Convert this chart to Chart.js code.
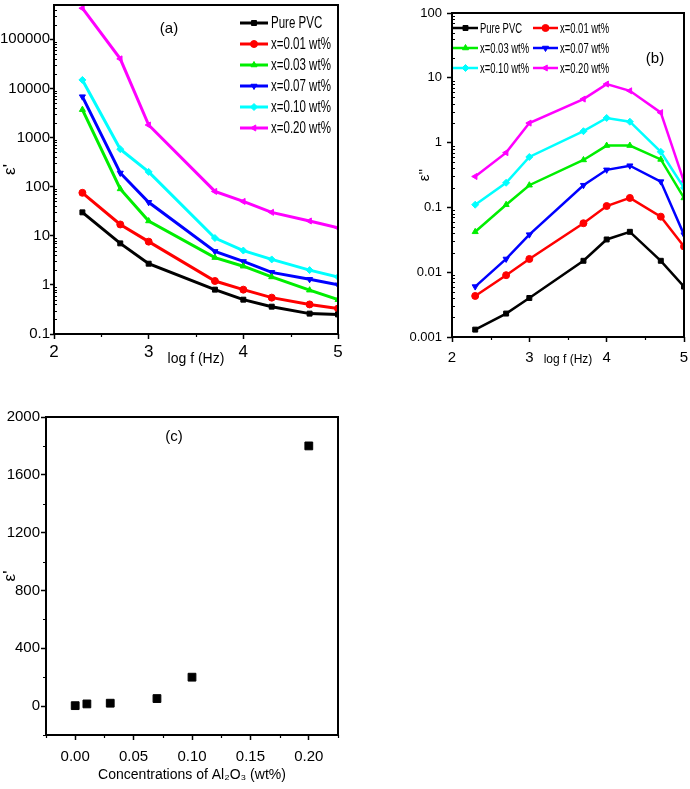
<!DOCTYPE html>
<html>
<head>
<meta charset="utf-8">
<title>PVC / Al2O3 dielectric constant and loss</title>
<script src="https://cdn.jsdelivr.net/npm/chart.js@4.4.1/dist/chart.umd.min.js"></script>
<style>
  html, body { margin: 0; padding: 0; background: #fff; }
  body { width: 690px; height: 789px; position: relative; overflow: hidden; }
  canvas { position: absolute; }
  #chartA { left: 0; top: 0; }
  #chartB { left: 360px; top: 0; }
  #chartC { left: 0; top: 400px; }
</style>
</head>
<body>
<canvas id="chartA" width="350" height="380"></canvas>
<canvas id="chartB" width="330" height="380"></canvas>
<canvas id="chartC" width="350" height="389"></canvas>
<script>
// ===================== DATA ===================== //
const logFreq = [2.3, 2.7, 3.0, 3.7, 4.0, 4.3, 4.7, 5.0];
const seriesNames = ['Pure PVC', 'x=0.01 wt%', 'x=0.03 wt%', 'x=0.07 wt%', 'x=0.10 wt%', 'x=0.20 wt%'];

// (a) ε' against log f
const epsRealPure = [30, 7, 2.7, 0.8, 0.5, 0.36, 0.26, 0.25];
const epsReal001  = [75, 17, 7.6, 1.2, 0.8, 0.55, 0.4, 0.33];
const epsReal003  = [3700, 90, 20, 3.6, 2.4, 1.45, 0.78, 0.5];
const epsReal007  = [6800, 190, 48, 4.8, 3.0, 1.8, 1.3, 1.0];
const epsReal010  = [14900, 580, 200, 9, 5, 3.3, 2.0, 1.45];
const epsReal020  = [430000, 40000, 1800, 80, 50, 30, 20, 14.5];

// (b) ε'' against log f
const epsImagPure = [0.0013, 0.0023, 0.004, 0.015, 0.032, 0.042, 0.015, 0.006];
const epsImag001  = [0.0043, 0.009, 0.016, 0.057, 0.105, 0.14, 0.072, 0.025];
const epsImag003  = [0.042, 0.11, 0.22, 0.54, 0.9, 0.9, 0.55, 0.14];
const epsImag007  = [0.006, 0.016, 0.038, 0.22, 0.38, 0.44, 0.25, 0.038];
const epsImag010  = [0.11, 0.24, 0.6, 1.5, 2.4, 2.1, 0.72, 0.2];
const epsImag020  = [0.3, 0.7, 2.0, 4.7, 8, 6.3, 2.9, 0.25];

// (c) ε' against Al2O3 content
const concentrations = [0, 0.01, 0.03, 0.07, 0.10, 0.20];
const epsRealConc = [3, 15, 20, 52, 200, 1800];

// tick values / labels
const freqTicks = [2, 3, 4, 5];
const freqTickLabels = ['2', '3', '4', '5'];
const epsRealTicks = [0.1, 1, 10, 100, 1000, 10000, 100000];
const epsRealTickLabels = ['0.1', '1', '10', '100', '1000', '10000', '100000'];
const epsImagTicks = [0.001, 0.01, 0.1, 1, 10, 100];
const epsImagTickLabels = ['0.001', '0.01', '0.1', '1', '10', '100'];
const concTicks = [0, 0.05, 0.10, 0.15, 0.20];
const concTickLabels = ['0.00', '0.05', '0.10', '0.15', '0.20'];
const epsConcTicks = [0, 400, 800, 1200, 1600, 2000];
const epsConcTickLabels = ['0', '400', '800', '1200', '1600', '2000'];

// ===================== ESTILO ===================== //
const FONT = "'Liberation Sans', Arial, sans-serif";
const INK = '#000';
const SERIES_COLORS = ['#000000', '#ff0000', '#00ee00', '#0000ff', '#00ffff', '#ff00ff'];
const SERIES_MARKERS = ['rect', 'circle', 'triangle', 'triangle', 'rectRot', 'triangle'];
const SERIES_ROTATION = [0, 0, 0, 180, 0, 270];

// ===================== PLUGINS ===================== //
// caixa em volta da área do gráfico
const framePlugin = {
  id: 'frame',
  afterDatasetsDraw(chart) {
    const { ctx, chartArea: a } = chart;
    ctx.save();
    ctx.strokeStyle = INK;
    ctx.lineWidth = 2;
    ctx.strokeRect(a.left, a.top, a.right - a.left, a.bottom - a.top);
    ctx.restore();
  }
};

// ticks menores (log: para dentro, linear: para fora)
const minorTicksPlugin = {
  id: 'minorTicks',
  afterDraw(chart, args, opts) {
    const { ctx, chartArea: a } = chart;
    ctx.save();
    ctx.strokeStyle = INK;
    ctx.lineWidth = 1.2;
    ctx.beginPath();
    ['x', 'y'].forEach(id => {
      const o = opts[id];
      const s = chart.scales[id];
      if (!o || !s) return;
      const vals = [];
      if (o.log) {
        for (let e = Math.floor(Math.log10(s.min)); e < Math.log10(s.max); e++) {
          for (let k = 2; k < 10; k++) {
            const v = k * Math.pow(10, e);
            if (v > s.min && v < s.max) vals.push(v);
          }
        }
      } else {
        for (let v = o.first; v <= s.max + 1e-9; v += o.every) vals.push(v);
      }
      const sign = o.out ? 1 : -1;
      vals.forEach(v => {
        const p = Math.round(s.getPixelForValue(v)) + 0.5;
        if (id === 'x') { ctx.moveTo(p, a.bottom); ctx.lineTo(p, a.bottom + sign * o.len); }
        else { ctx.moveTo(a.left, p); ctx.lineTo(a.left - sign * o.len, p); }
      });
    });
    ctx.stroke();
    ctx.restore();
  }
};

// legenda dentro do gráfico + rótulo do painel (a)/(b)/(c)
const insetLegendPlugin = {
  id: 'insetLegend',
  afterDraw(chart, args, o) {
    const ctx = chart.ctx;
    ctx.save();
    if (o.tag) {
      ctx.fillStyle = INK;
      ctx.font = o.tag.size + 'px ' + FONT;
      ctx.textAlign = 'center';
      ctx.textBaseline = 'middle';
      ctx.fillText(o.tag.text, o.tag.x, o.tag.y);
    }
    if (o.cols) {
      chart.data.datasets.forEach((ds, i) => {
        const col = i % o.cols;
        const row = Math.floor(i / o.cols);
        const x = o.colX[col];
        const y = o.y + row * o.rowH;
        ctx.strokeStyle = ds.borderColor;
        ctx.lineWidth = o.lineWidth;
        ctx.beginPath();
        ctx.moveTo(x, y);
        ctx.lineTo(x + o.lineLen, y);
        ctx.stroke();
        ctx.lineWidth = 1;
        ctx.fillStyle = ds.backgroundColor;
        Chart.helpers.drawPoint(ctx, {
          pointStyle: ds.pointStyle, rotation: ds.pointRotation,
          radius: ds.pointRadius, borderWidth: 1
        }, x + o.lineLen / 2, y);
        // texto estreito como no original
        ctx.save();
        ctx.translate(x + o.lineLen + o.gap, y + 1);
        ctx.scale(o.squeeze, 1);
        ctx.fillStyle = INK;
        ctx.font = o.size + 'px ' + FONT;
        ctx.textAlign = 'left';
        ctx.textBaseline = 'middle';
        ctx.fillText(ds.label, 0, 0);
        ctx.restore();
      });
    }
    ctx.restore();
  }
};

// ===================== HELPERS ===================== //
function fixBox(size) {
  return s => {
    if (s.isHorizontal()) s.height = size; else s.width = size;
    s.paddingTop = s.paddingBottom = s.paddingLeft = s.paddingRight = 0;
  };
}

function axis(cfg) {
  return {
    type: cfg.type || 'linear',
    min: cfg.min,
    max: cfg.max,
    afterBuildTicks: s => { s.ticks = cfg.ticks.map(v => ({ value: v })); },
    afterFit: fixBox(cfg.size),
    ticks: {
      callback: (v, i) => cfg.labels[i],
      font: { family: FONT, size: cfg.font },
      color: INK, padding: cfg.pad, autoSkip: false, maxRotation: 0
    },
    grid: { drawOnChartArea: false, drawTicks: true, tickLength: cfg.tl || 5, tickWidth: 1.5, tickColor: INK },
    border: { display: false },
    title: {
      display: true, text: cfg.title, color: INK,
      font: { family: FONT, size: cfg.titleFont },
      padding: cfg.titlePad
    }
  };
}

function lineSets(series, lw, r) {
  return series.map((vals, i) => ({
    label: seriesNames[i],
    data: logFreq.map((f, j) => ({ x: f, y: vals[j] })),
    borderColor: SERIES_COLORS[i],
    backgroundColor: SERIES_COLORS[i],
    borderWidth: lw,
    pointRadius: r,
    pointStyle: SERIES_MARKERS[i],
    pointRotation: SERIES_ROTATION[i],
    pointBorderWidth: 1,
    tension: 0,
    fill: false
  }));
}

const base = {
  responsive: false,
  animation: false,
  devicePixelRatio: 1,
  events: []
};

// ===================== GRÁFICO (a) ===================== //
new Chart(document.getElementById('chartA'), {
  type: 'line',
  data: { datasets: lineSets([epsRealPure, epsReal001, epsReal003, epsReal007, epsReal010, epsReal020], 3, 3.5) },
  options: {
    ...base,
    layout: { padding: { top: 5, right: 12, left: 0, bottom: 0 } },
    scales: {
      x: axis({ min: 2, max: 5, ticks: freqTicks, labels: freqTickLabels, size: 46, font: 17, pad: 3,
                title: 'log f (Hz)', titleFont: 14, titlePad: { top: 0, bottom: 12 } }),
      y: axis({ type: 'logarithmic', min: 0.1, max: 5e5, ticks: epsRealTicks, labels: epsRealTickLabels,
                size: 54, font: 15, pad: 0, tl: 4, title: "ε'", titleFont: 17, titlePad: { top: 0, bottom: 0 } })
    },
    plugins: {
      legend: { display: false },
      tooltip: { enabled: false },
      minorTicks: { x: { first: 2.5, every: 1, len: 3, out: true }, y: { log: true, len: 3, out: false } },
      insetLegend: {
        tag: { text: '(a)', x: 169, y: 29, size: 15 },
        cols: 1, colX: [240], y: 23, rowH: 21, lineLen: 28, gap: 3, lineWidth: 3,
        size: 16, squeeze: 0.72
      }
    }
  },
  plugins: [framePlugin, minorTicksPlugin, insetLegendPlugin]
});

// ===================== GRÁFICO (b) ===================== //
new Chart(document.getElementById('chartB'), {
  type: 'line',
  data: { datasets: lineSets([epsImagPure, epsImag001, epsImag003, epsImag007, epsImag010, epsImag020], 2.5, 3.5) },
  options: {
    ...base,
    layout: { padding: { top: 13, right: 6, left: 0, bottom: 0 } },
    scales: {
      x: axis({ min: 2, max: 5, ticks: freqTicks, labels: freqTickLabels, size: 43, font: 15, pad: 6.5,
                title: 'log f (Hz)', titleFont: 12, titlePad: { top: 0, bottom: 13 } }),
      y: axis({ type: 'logarithmic', min: 0.001, max: 100, ticks: epsImagTicks, labels: epsImagTickLabels,
                size: 92, font: 13, pad: 5, title: "ε''", titleFont: 15, titlePad: { top: 56, bottom: 0 } })
    },
    plugins: {
      legend: { display: false },
      tooltip: { enabled: false },
      minorTicks: { x: { first: 2.5, every: 1, len: 3, out: true }, y: { log: true, len: 3, out: false } },
      insetLegend: {
        tag: { text: '(b)', x: 295, y: 59, size: 15 },
        cols: 2, colX: [93, 173], y: 28, rowH: 20, lineLen: 25, gap: 2, lineWidth: 2.5,
        size: 15, squeeze: 0.63
      }
    }
  },
  plugins: [framePlugin, minorTicksPlugin, insetLegendPlugin]
});

// ===================== GRÁFICO (c) ===================== //
new Chart(document.getElementById('chartC'), {
  type: 'scatter',
  data: {
    datasets: [{
      label: "ε'",
      data: concentrations.map((c, i) => ({ x: c, y: epsRealConc[i] })),
      pointStyle: 'rect',
      pointRadius: 5.5,
      backgroundColor: '#000',
      borderColor: '#000',
      borderWidth: 1
    }]
  },
  options: {
    ...base,
    layout: { padding: { top: 17, right: 12, left: 0, bottom: 0 } },
    scales: {
      x: axis({ min: -0.025, max: 0.225, ticks: concTicks, labels: concTickLabels, size: 54, font: 15, pad: 8,
                title: 'Concentrations of Al\u2082O\u2083 (wt%)', titleFont: 14, titlePad: { top: 0, bottom: 5.5 } }),
      y: axis({ min: -200, max: 2000, ticks: epsConcTicks, labels: epsConcTickLabels,
                size: 46, font: 15, pad: 1, title: "ε'", titleFont: 17, titlePad: { top: 0, bottom: 0 } })
    },
    plugins: {
      legend: { display: false },
      tooltip: { enabled: false },
      minorTicks: { x: { first: -0.025, every: 0.05, len: 3, out: true }, y: { first: -200, every: 400, len: 3, out: true } },
      insetLegend: { tag: { text: '(c)', x: 174, y: 37, size: 15 } }
    }
  },
  plugins: [framePlugin, minorTicksPlugin, insetLegendPlugin]
});
</script>
</body>
</html>
